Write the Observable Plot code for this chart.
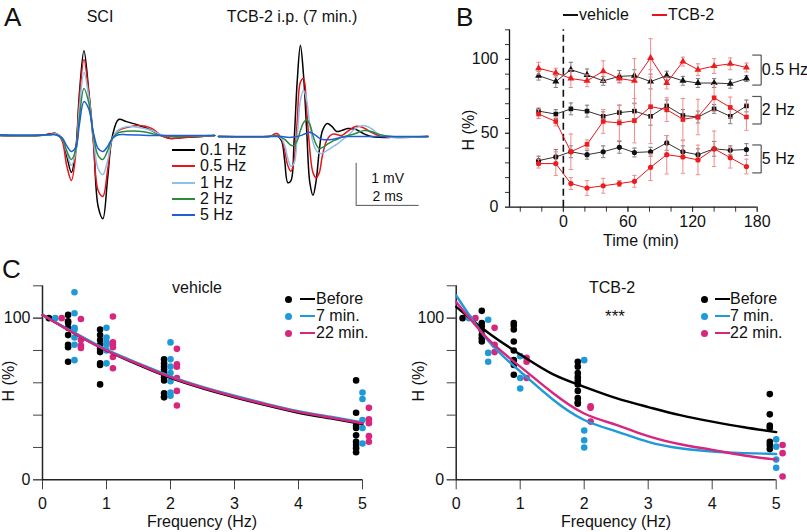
<!DOCTYPE html>
<html><head><meta charset="utf-8">
<script src="https://cdn.jsdelivr.net/npm/d3@7"></script>
<script src="https://cdn.jsdelivr.net/npm/@observablehq/plot@0.6"></script>
<style>
body{margin:0;background:#fff;}
#root{position:relative;width:807px;height:532px;overflow:hidden;font-family:"Liberation Sans",Arial,sans-serif;color:#111;background:#fff;}
</style></head><body><div id="root"></div>
<script>
// ---------------- Panel A data (ms, mV) ----------------
const waveLabels = ["0.1 Hz", "0.5 Hz", "1 Hz", "2 Hz", "5 Hz"];
const waveColors = ["#000000", "#e8131b", "#8cc0e8", "#2b8a3e", "#1c5fd8"];
const sciTimes = [0,1.2,1.6,1.75,1.95,2.1,2.25,2.4,2.5,2.65,2.8,2.95,3.1,3.25,3.4,3.55,3.75,4.0,4.4,4.8,5.1,5.4,5.8,6.8];
const sci01 = [0,0,0.04,0.05,-0.07,-0.48,-0.88,-0.24,0.95,2.02,1.07,-0.12,-1.69,-1.98,-1.02,-0.02,0.38,0.33,0.24,0.12,0,-0.07,-0.05,0];
const sci05 = [0,0,0.04,0.05,-0.12,-0.71,-1.07,-0.36,0.83,1.81,1.02,-0.17,-1.31,-1.45,-0.83,-0.07,0.12,0.19,0.24,0.17,0,-0.07,-0.05,0];
const sci1  = [0,0,0.02,0.04,-0.07,-0.40,-0.71,-0.36,0.60,1.50,0.93,-0.07,-0.79,-0.93,-0.60,-0.07,0.14,0.21,0.19,0.12,0.02,-0.02,-0.02,0];
const sci2  = [0,0,0.02,0.02,-0.07,-0.36,-0.57,-0.31,0.40,1.12,0.79,0,-0.48,-0.57,-0.36,-0.07,0.07,0.10,0.10,0.05,0,-0.02,-0.02,0];
const sci5  = [0.02,0.01,0.02,0.02,-0.05,-0.24,-0.38,-0.26,0.24,0.81,0.64,0.07,-0.31,-0.38,-0.26,-0.07,0.02,0.02,0.01,0,0,0,0,0];
const tcbTimes = [0,1.6,1.85,2.0,2.1,2.2,2.3,2.4,2.5,2.6,2.7,2.8,2.9,3.0,3.1,3.2,3.3,3.45,3.6,3.75,3.9,4.1,4.35,4.6,4.85,5.1,5.5,6.65];
const tcb01 = [0,0,0.02,-0.10,-0.57,-1.10,-1.05,-0.10,1.33,2.17,1.45,0.14,-1.10,-1.40,-1.05,-0.33,0.14,0.31,0.24,0.12,0.14,0.19,0.17,0.07,0,-0.02,-0.02,0];
const tcb05w = [0,0,0.07,-0.05,-0.33,-0.69,-0.83,-0.57,0.38,1.29,1.38,0.62,-0.33,-0.86,-0.98,-0.86,-0.45,-0.07,0.05,0.05,0.02,0.12,0.24,0.21,0.10,0.02,-0.02,0];
const tcb1w = [0,0,0.02,-0.05,-0.21,-0.52,-0.71,-0.64,0.02,0.86,1.10,0.86,0.26,-0.14,-0.33,-0.40,-0.40,-0.33,-0.26,-0.19,-0.10,0.02,0.19,0.26,0.19,0.05,-0.02,0];
const tcb2w = [0,0,0.02,-0.02,-0.07,-0.14,-0.21,-0.21,-0.10,0.14,0.33,0.40,0.29,0.02,-0.19,-0.29,-0.26,-0.19,-0.12,-0.07,-0.02,0.02,0.07,0.14,0.12,0.05,0,0];
const tcb5w = [0,0,0,0,-0.01,-0.02,-0.02,-0.01,0,0.02,0.05,0.08,0.10,0.07,0.02,-0.04,-0.07,-0.08,-0.07,-0.05,-0.02,0,0,0,0,0,0,0];
const scaleBar = {t: 4.37, v: -1.64, ms: 2, mV: 1};

// ---------------- Panel B data ----------------
const times = [-23, -7, 7, 22, 37, 52, 66, 81, 96, 111, 125, 140, 155, 170];
const veh05 = [89, 85, 93, 89.5, 85.5, 88.5, 89, 85, 89, 85.5, 84, 84, 83.5, 87];
const veh05e = [3, 4, 5, 4, 3, 4, 4, 5, 3, 3, 3, 3, 3, 2];
const tcb05 = [94, 91, 87, 85.5, 92, 87, 85.5, 101, 84, 98.5, 93, 95.5, 97, 94.5];
const tcb05e = [4, 3, 6, 4, 7, 3, 15, 13, 4, 3, 4, 5, 4, 3];
const veh2 = [65, 63, 66.5, 65, 61.5, 64, 65, 61.5, 68.5, 62, 61, 66.5, 61.5, 68.5];
const veh2e = [2, 3, 4, 4, 3, 5, 5, 6, 4, 4, 4, 3, 5, 4];
const tcb2 = [63, 58, 37.5, 42.5, 58, 57, 58.5, 68, 66, 59.5, 61, 74, 67.5, 61];
const tcb2e = [3, 3, 12, 3, 8, 12, 15, 25, 8, 14, 12, 9, 7, 9];
const veh5 = [31.5, 34, 37.5, 35.5, 37.5, 40.5, 37, 37.5, 43.5, 37.5, 35.5, 39.5, 38.5, 39];
const veh5e = [3, 5, 4, 3, 4, 4, 3, 3, 5, 4, 4, 5, 3, 4];
const tcb5 = [29.5, 29.5, 16, 13, 14.5, 16, 17.5, 27, 35.5, 34, 32, 39.5, 33.5, 27.5];
const tcb5e = [3, 8, 4, 5, 5, 2, 4, 9, 13, 11, 10, 12, 7, 5];
const bFreqs = ["0.5 Hz", "2 Hz", "5 Hz"];
const bSymbols = ["triangle", "square", "circle"];
const brackets = [
  {label: "0.5 Hz", lo: 82.6, hi: 102.9},
  {label: "2 Hz", lo: 56.3, hi: 74.9},
  {label: "5 Hz", lo: 23.2, hi: 42.1}
];

// ---------------- Panel C data ----------------
const cGroups = ["Before", "7 min.", "22 min."];
const cColors = ["#000000", "#1f9ad8", "#d8257d"];
const vehBeforeF = [0.1, 0.4, 0.9, 1.9, 4.9];
const vehBeforeV = [[100], [102,98,97,94,89.5,83.5,82,73], [93,89.5,86.5,83.5,81,79,72,71,59], [74.5,72,70,68,66,63.5,61.5,53.5,51.5,51], [61.5,41.5,33.5,32,27.5,23.5,21.5,19.5,17]];
const veh7F = [0.2, 0.5, 1.0, 2.0, 5.0];
const veh7V = [[100], [116,103,94,93,88,83.5,74], [94,88,85,83.5,80,72], [85,74.5,70,66,61,54,52], [54,50,37,32,22.5]];
const veh22F = [0.3, 0.6, 1.1, 2.1, 5.1];
const veh22V = [[100], [99.5,86.5,83,81.5], [101,85,83.5,82,76,69], [81,71.5,70,63,55,46], [44.5,37.5,35,27,23.5]];
const tcbBeforeF = [0.1, 0.4, 0.9, 1.9, 4.9];
const tcbBeforeV = [[100], [104.5,97,95,92.5,89.5,87.5,85.5], [97,95.5,93,85.5,80,74,71,65], [73,70,66,63.5,61.5,59,55,50.5,48,47], [53,40.5,33.5,32,23.5,21.5,19]];
const tcb7F = [0.2, 0.5, 1.0, 2.0, 5.0];
const tcb7V = [[100], [99,78.5,73], [76.5,63,56.5], [74,30.5,24.5,20], [25,20.5,12.5,7.5]];
const tcb22F = [0.3, 0.6, 1.1, 2.1, 5.1];
const tcb22V = [[100], [94,83.5,79], [75.5,73,63], [45.5,44.5,36], [21.5,16.5,2]];
const fitF = [0, 0.5, 1, 1.5, 2, 2.5, 3, 3.5, 4, 4.5, 5];
const vehFitBefore = [102, 90.5, 80, 71, 63, 56.5, 51, 46, 41.5, 38, 34.5];
const vehFit7 = [102, 91, 80.5, 72, 64, 57.5, 52, 47, 42.5, 39, 35.5];
const vehFit22 = [102, 90.5, 80, 71.5, 63.5, 57, 51.5, 46.5, 42, 38.5, 35];
const tcbFitBefore = [107, 91, 77.5, 65.5, 57.5, 50.5, 45, 40, 36, 32.5, 29.5];
const tcbFit7 = [114, 86, 67, 50, 37, 30, 23.5, 19.5, 17.5, 16.5, 16];
const tcbFit22 = [110, 87, 70, 54, 41, 34, 27, 22, 18.5, 15, 12.5];

// ---------------- helpers ----------------
const root = document.getElementById("root");
const FONT = "Liberation Sans, Arial, sans-serif";
function put(el, left, top) {
  el.style.position = "absolute"; el.style.left = left + "px"; el.style.top = top + "px";
  root.appendChild(el); return el;
}
function txt(s, x, y, {size = 16, anchor = "middle", rotate = 0, color = "#111"} = {}) {
  const d = document.createElement("div");
  d.textContent = s;
  d.style.cssText = `position:absolute;left:${x}px;top:${y}px;font-size:${size}px;line-height:1;white-space:nowrap;color:${color};`;
  const tx = anchor === "middle" ? "-50%" : anchor === "end" ? "-100%" : "0";
  d.style.transform = `translate(${tx},-50%)` + (rotate ? ` rotate(${rotate}deg)` : "");
  root.appendChild(d);
}
function hline(x1, x2, y, color, w = 1.5) {
  const d = document.createElement("div");
  d.style.cssText = `position:absolute;left:${x1}px;top:${y - w / 2}px;width:${x2 - x1}px;height:${w}px;background:${color};`;
  root.appendChild(d);
}
function dotDiv(x, y, r, color) {
  const d = document.createElement("div");
  d.style.cssText = `position:absolute;left:${x - r}px;top:${y - r}px;width:${2 * r}px;height:${2 * r}px;border-radius:50%;background:${color};`;
  root.appendChild(d);
}
const baseStyle = {background: "transparent", fontFamily: FONT, fontSize: "16px", overflow: "visible", color: "#111"};

// ---------------- Panel A ----------------
function waveRows(tArr, series) {
  const rows = [];
  series.forEach((vals, i) => vals.forEach((v, j) => rows.push({t: tArr[j], v, s: waveLabels[i]})));
  return rows;
}
function wavePlot(tArr, series, tMax, width, extra = []) {
  const rows = waveRows(tArr, series);
  return Plot.plot({
    width, height: 210, marginLeft: 0, marginRight: width - tMax * 31.5, marginTop: 0, marginBottom: 0,
    x: {domain: [0, tMax], axis: null}, y: {domain: [-2.5, 2.5], axis: null},
    color: {domain: waveLabels, range: waveColors},
    style: baseStyle,
    marks: [
      Plot.line(rows, {x: "t", y: "v", z: "s", stroke: "s", curve: "catmull-rom", strokeWidth: 1.5}),
      ...extra
    ]
  });
}
put(wavePlot(sciTimes, [sci01, sci05, sci1, sci2, sci5], 6.8, 216), 0, 30);
put(wavePlot(tcbTimes, [tcb01, tcb05w, tcb1w, tcb2w, tcb5w], 6.7, 214, [
  Plot.ruleX([scaleBar], {x: "t", y1: "v", y2: d => d.v + d.mV, stroke: "#555", strokeWidth: 1}),
  Plot.ruleY([scaleBar], {y: "v", x1: "t", x2: d => d.t + d.ms, stroke: "#555", strokeWidth: 1}),
  Plot.text([scaleBar], {x: d => d.t + d.ms / 2, y: d => d.v + 0.65, text: d => `${d.mV} mV`, fontSize: 14, fill: "#111"}),
  Plot.text([scaleBar], {x: d => d.t + d.ms / 2, y: d => d.v + 0.22, text: d => `${d.ms} ms`, fontSize: 14, fill: "#111"})
]), 218, 31);
txt("A", 4, 17, {size: 26, anchor: "start"});
txt("SCI", 100, 17, {size: 16});
txt("TCB-2 i.p. (7 min.)", 292, 17, {size: 16});
waveLabels.forEach((l, i) => {
  const y = [150, 166, 182.5, 199, 215][i];
  hline(172, 195, y, waveColors[i], 2);
  txt(l, 200, y, {size: 16, anchor: "start"});
});

// ---------------- Panel B ----------------
const bRows = [];
[[veh05, veh05e, tcb05, tcb05e], [veh2, veh2e, tcb2, tcb2e], [veh5, veh5e, tcb5, tcb5e]].forEach(([vv, ve, tv, te], k) => {
  times.forEach((t, j) => {
    bRows.push({t, v: vv[j], e: ve[j], g: "vehicle", f: bFreqs[k]});
    bRows.push({t, v: tv[j], e: te[j], g: "TCB-2", f: bFreqs[k]});
  });
});
const bVeh = bRows.filter(d => d.g === "vehicle");
const bTcb = bRows.filter(d => d.g === "TCB-2");
function groupMarks(rows, lineColor, errColor, dotColor) {
  return [
    Plot.ruleX(rows, {x: "t", y1: d => d.v - d.e, y2: d => d.v + d.e, stroke: errColor, strokeWidth: 1}),
    Plot.link(rows, {x1: d => d.t - 2, x2: d => d.t + 2, y1: d => d.v + d.e, y2: d => d.v + d.e, stroke: errColor, strokeWidth: 1}),
    Plot.link(rows, {x1: d => d.t - 2, x2: d => d.t + 2, y1: d => d.v - d.e, y2: d => d.v - d.e, stroke: errColor, strokeWidth: 1}),
    Plot.line(rows, {x: "t", y: "v", z: "f", stroke: lineColor, strokeWidth: 1}),
    Plot.dot(rows, {x: "t", y: "v", symbol: "f", fill: dotColor, r: 2.6})
  ];
}
const plotB = Plot.plot({
  width: 377, height: 250, marginLeft: 79, marginRight: 50.3, marginTop: 29.3, marginBottom: 43.3,
  x: {domain: [-50, 180], label: null}, y: {domain: [0, 120], label: null},
  symbol: {domain: bFreqs, range: bSymbols},
  style: baseStyle,
  marks: [
    Plot.axisY({ticks: d3.range(0, 121, 10), tickFormat: () => "", tickSize: 4, stroke: "#333", label: null}),
    Plot.axisY({ticks: [0, 50, 100], tickSize: 4, tickPadding: 7, fontSize: 16, stroke: "#333", label: null}),
    Plot.axisX({ticks: d3.range(-40, 181, 20), tickFormat: () => "", tickSize: 5, stroke: "#333", label: null}),
    Plot.axisX({ticks: [0, 60, 120, 180], tickSize: 5, tickPadding: 3, fontSize: 16, stroke: "#333", label: null}),
    Plot.ruleX([-50], {y1: 0, y2: 120, stroke: "#111", strokeWidth: 1.3}),
    Plot.ruleY([0], {x1: -50, x2: 180, stroke: "#111", strokeWidth: 1.3}),
    Plot.ruleX([0], {y1: 0, y2: 120, stroke: "#111", strokeWidth: 1.6, strokeDasharray: "7,4"}),
    ...groupMarks(bVeh, "#333", "#7c7c7c", "#111"),
    ...groupMarks(bTcb, "#e8131b", "#f28a8a", "#ee1c1c"),
    Plot.link(brackets, {x1: 183.7, x2: 183.7, y1: "lo", y2: "hi", stroke: "#555", strokeWidth: 1.2}),
    Plot.link(brackets, {x1: 175.4, x2: 183.7, y1: "hi", y2: "hi", stroke: "#555", strokeWidth: 1.2}),
    Plot.link(brackets, {x1: 175.4, x2: 183.7, y1: "lo", y2: "lo", stroke: "#555", strokeWidth: 1.2}),
    Plot.text(brackets, {x: 184.3, y: d => (d.lo + d.hi) / 2, text: "label", textAnchor: "start", fontSize: 16, fill: "#111"})
  ]
});
put(plotB, 430, 0);
txt("B", 456, 17, {size: 26, anchor: "start"});
txt("Time (min)", 641, 241, {size: 16});
txt("H (%)", 469, 130, {size: 16, rotate: -90});
hline(563, 578, 15, "#111", 1.5);
txt("vehicle", 579, 15, {size: 16, anchor: "start"});
hline(652, 667, 15, "#e8131b", 1.5);
txt("TCB-2", 668, 15, {size: 16, anchor: "start"});

// ---------------- Panel C ----------------
function cDotRows(fs, vs, g) {
  const rows = [];
  fs.forEach((f, i) => vs[i].forEach(v => rows.push({f, v, g})));
  return rows;
}
function cFitRows(vals, g) { return fitF.map((f, i) => ({f, v: vals[i], g})); }
function plotC(width, marginLeft, dots, fits) {
  return Plot.plot({
    width, height: 272, marginLeft, marginRight: width - marginLeft - 320, marginTop: 25.3, marginBottom: 52.7,
    x: {domain: [0, 5], label: null}, y: {domain: [0, 120], label: null},
    style: baseStyle,
    marks: [
      Plot.axisY({ticks: d3.range(0, 121, 20), tickFormat: () => "", tickSize: 9, stroke: "#444", label: null}),
      Plot.axisY({ticks: [0, 100], tickFormat: d => String(d), tickSize: 9, tickPadding: 3, fontSize: 16, stroke: "#444", label: null}),
      Plot.axisX({ticks: [0, 1, 2, 3, 4, 5], tickFormat: d => String(d), tickSize: 10, tickPadding: 8, fontSize: 16, stroke: "#444", label: null}),
      Plot.ruleX([0], {y1: 0, y2: 120, stroke: "#222", strokeWidth: 1.5}),
      Plot.ruleY([0], {x1: 0, x2: 5, stroke: "#222", strokeWidth: 1.5}),
      ...dots.map((rows, i) => Plot.dot(rows, {x: "f", y: "v", r: 3.3, fill: cColors[i]})),
      ...fits.map((rows, i) => Plot.line(rows, {x: "f", y: "v", stroke: cColors[i], strokeWidth: 2.4, curve: "natural"}))
    ]
  });
}
put(plotC(400, 42,
  [cDotRows(vehBeforeF, vehBeforeV, cGroups[0]), cDotRows(veh7F, veh7V, cGroups[1]), cDotRows(veh22F, veh22V, cGroups[2])],
  [cFitRows(vehFitBefore, cGroups[0]), cFitRows(vehFit7, cGroups[1]), cFitRows(vehFit22, cGroups[2])]), 0, 260);
put(plotC(407, 55.7,
  [cDotRows(tcbBeforeF, tcbBeforeV, cGroups[0]), cDotRows(tcb7F, tcb7V, cGroups[1]), cDotRows(tcb22F, tcb22V, cGroups[2])],
  [cFitRows(tcbFitBefore, cGroups[0]), cFitRows(tcbFit7, cGroups[1]), cFitRows(tcbFit22, cGroups[2])]), 400, 260);
txt("C", 2, 269, {size: 26, anchor: "start"});
txt("vehicle", 197, 288, {size: 16});
txt("TCB-2", 612, 288, {size: 16});
txt("***", 615, 316, {size: 17});
txt("Frequency (Hz)", 202, 522, {size: 16});
txt("Frequency (Hz)", 616, 522, {size: 16});
txt("H (%)", 9, 381, {size: 16, rotate: -90});
txt("H (%)", 419, 381, {size: 16, rotate: -90});
[[288, 300, 316], [704, 715, 730]].forEach(([dx, lx, tx]) => {
  cGroups.forEach((g, i) => {
    const y = [299, 316, 333][i];
    dotDiv(dx, y, 3.5, cColors[i]);
    hline(lx, lx + 15, y, cColors[i], 1.6);
    txt(g, tx, y, {size: 16, anchor: "start"});
  });
});
</script></body></html>
